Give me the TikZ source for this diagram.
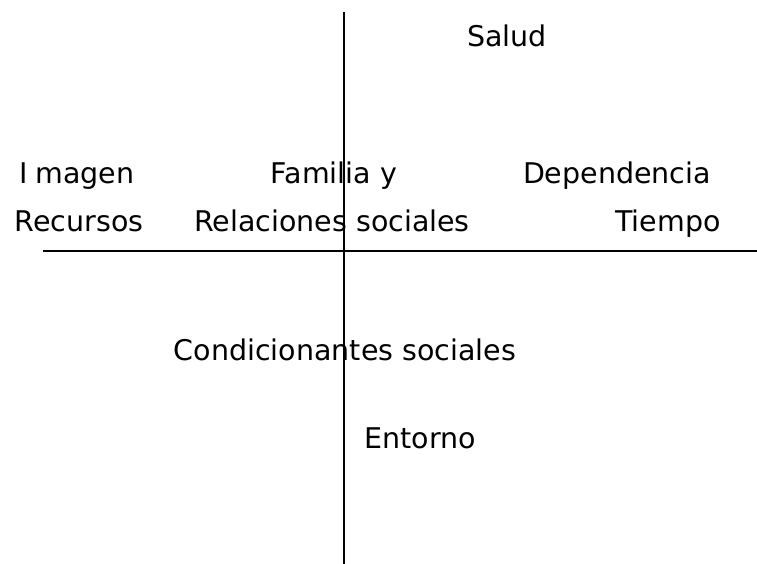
\documentclass[tikz,border=0pt]{standalone}
\usepackage{fontspec}
\setmainfont{DejaVu Sans}
\usetikzlibrary{positioning}

\begin{document}
\begin{tikzpicture}[%
  x=1pt, y=-1pt,
  label/.style={anchor=base, inner sep=0pt, font=\fontsize{28.5}{34}\selectfont},
  axis/.style={line width=2pt, black},
]

  \useasboundingbox (0,0) rectangle (757,564);

  \coordinate (T) at (343.5, 12);
  \coordinate (B) at (343.5, 564);
  \coordinate (L) at (43, 250.5);
  \coordinate (R) at (757, 250.5);

  \draw[axis] (T) -- (B);
  \draw[axis] (L) -- (R);

  \node[label] (salud) at (507, 47) {Salud};

  \node[label] (imagen) at (77, 183) {I\hspace{0.25em}magen};
  \node[label] (familia) at (334, 183) {Familia y};
  \node[label] (dependencia) at (617, 183) {Dependencia};

  \node[label] (recursos) at (79, 231) {Recursos};
  \node[label] (relaciones) at (332, 231) {Relaciones sociales};
  \node[label] (tiempo) at (668, 231) {Tiempo};

  \node[label] (condicionantes) at (345, 360) {Condicionantes sociales};
  \node[label] (entorno) at (420, 448) {Entorno};

\end{tikzpicture}
\end{document}
